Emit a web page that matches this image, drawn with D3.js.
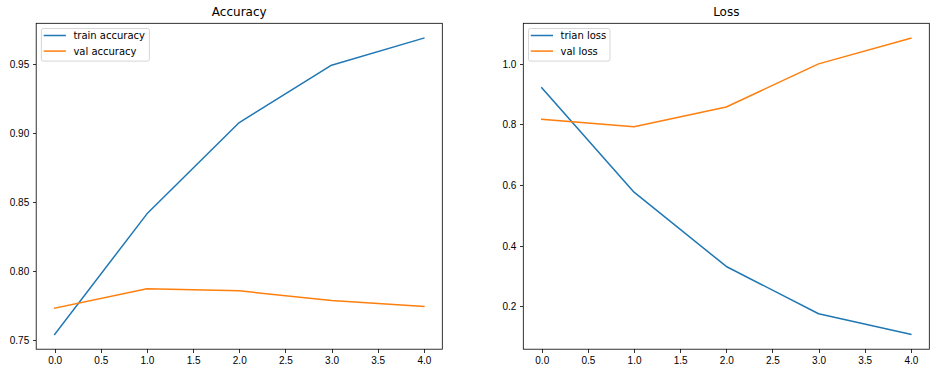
<!DOCTYPE html>
<html><head><meta charset="utf-8">
<script src="https://cdn.jsdelivr.net/npm/d3@7"></script>
<style>
body{margin:0;background:#fff;}
svg{display:block;font-family:"DejaVu Sans",sans-serif;}
.axis path,.axis line{stroke:#000;stroke-width:0.8;shape-rendering:crispEdges;}
.axis text{font-size:10px;fill:#000;}
</style></head>
<body>
<svg id="chart" width="936" height="373"></svg>
<script>
const epochs = [0, 1, 2, 3, 4];
const trainAccuracy = [0.7543, 0.8415, 0.9075, 0.9490, 0.9686];
const valAccuracy = [0.7733, 0.7873, 0.7858, 0.7788, 0.7745];
const trainLoss = [0.920, 0.576, 0.331, 0.175, 0.107];
const valLoss = [0.8165, 0.792, 0.857, 0.999, 1.084];
const xTicks = [0, 0.5, 1, 1.5, 2, 2.5, 3, 3.5, 4];
const accTicks = [0.75, 0.80, 0.85, 0.90, 0.95];
const lossTicks = [0.2, 0.4, 0.6, 0.8, 1.0];
const accLabels = ["train accuracy", "val accuracy"];
const lossLabels = ["trian loss", "val loss"];
const titles = ["Accuracy", "Loss"];
const colors = ["#1f77b4", "#ff7f0e"];

const svg = d3.select("#chart");
const plotTop = 23.3, plotBottom = 349.2;

function panel(left, right, title, s1, s2, labels, yTicks, yFmt, legendW) {
  const g = svg.append("g");
  const allVals = s1.concat(s2);
  const lo = d3.min(allVals), hi = d3.max(allVals), m = (hi - lo) * 0.05;
  const x = d3.scaleLinear().domain([-0.2, 4.2]).range([left, right]);
  const y = d3.scaleLinear().domain([lo - m, hi + m]).range([plotBottom, plotTop]);

  const line = d3.line().x((d, i) => x(epochs[i])).y(d => y(d));
  [s1, s2].forEach((s, k) => {
    g.append("path").datum(s).attr("d", line).attr("fill", "none")
      .attr("stroke", colors[k]).attr("stroke-width", 1.5)
      .attr("stroke-linejoin", "round").attr("stroke-linecap", "square");
  });

  const xa = g.append("g").attr("class", "axis").attr("transform", `translate(0,${plotBottom})`)
    .call(d3.axisBottom(x).tickValues(xTicks).tickFormat(d3.format(".1f")).tickSizeInner(3.5).tickSizeOuter(0).tickPadding(3.5));
  xa.select(".domain").remove();
  xa.selectAll("text").attr("dy", "0.78em");
  const ya = g.append("g").attr("class", "axis").attr("transform", `translate(${left},0)`)
    .call(d3.axisLeft(y).tickValues(yTicks).tickFormat(yFmt).tickSizeInner(3.5).tickSizeOuter(0).tickPadding(3.5));
  ya.select(".domain").remove();
  ya.selectAll("text").attr("dy", "0.35em");

  g.append("rect").attr("x", left).attr("y", plotTop).attr("width", right - left).attr("height", plotBottom - plotTop)
    .attr("fill", "none").attr("stroke", "#000").attr("stroke-width", 0.8);

  g.append("text").attr("x", (left + right) / 2).attr("y", plotTop - 7).attr("text-anchor", "middle")
    .attr("font-size", "12px").attr("fill", "#000").text(title);

  const lx = left + 5.2, ly = plotTop + 5.2;
  g.append("rect").attr("x", lx).attr("y", ly).attr("width", legendW).attr("height", 32.6)
    .attr("rx", 2).attr("fill", "#fff").attr("fill-opacity", 0.8).attr("stroke", "#ccc").attr("stroke-width", 0.8);
  labels.forEach((lab, k) => {
    const yy = ly + 7 + k * 15.6;
    g.append("line").attr("x1", lx + 2.3).attr("x2", lx + 24.5).attr("y1", yy).attr("y2", yy)
      .attr("stroke", colors[k]).attr("stroke-width", 1.5);
    g.append("text").attr("x", lx + 32).attr("y", yy).attr("dy", "0.35em")
      .attr("font-size", "10px").attr("fill", "#000").text(lab);
  });
}

panel(36.2, 442.3, titles[0], trainAccuracy, valAccuracy, accLabels, accTicks, d3.format(".2f"), 108);
panel(523.3, 929.3, titles[1], trainLoss, valLoss, lossLabels, lossTicks, d3.format(".1f"), 81.5);
</script>
</body></html>
